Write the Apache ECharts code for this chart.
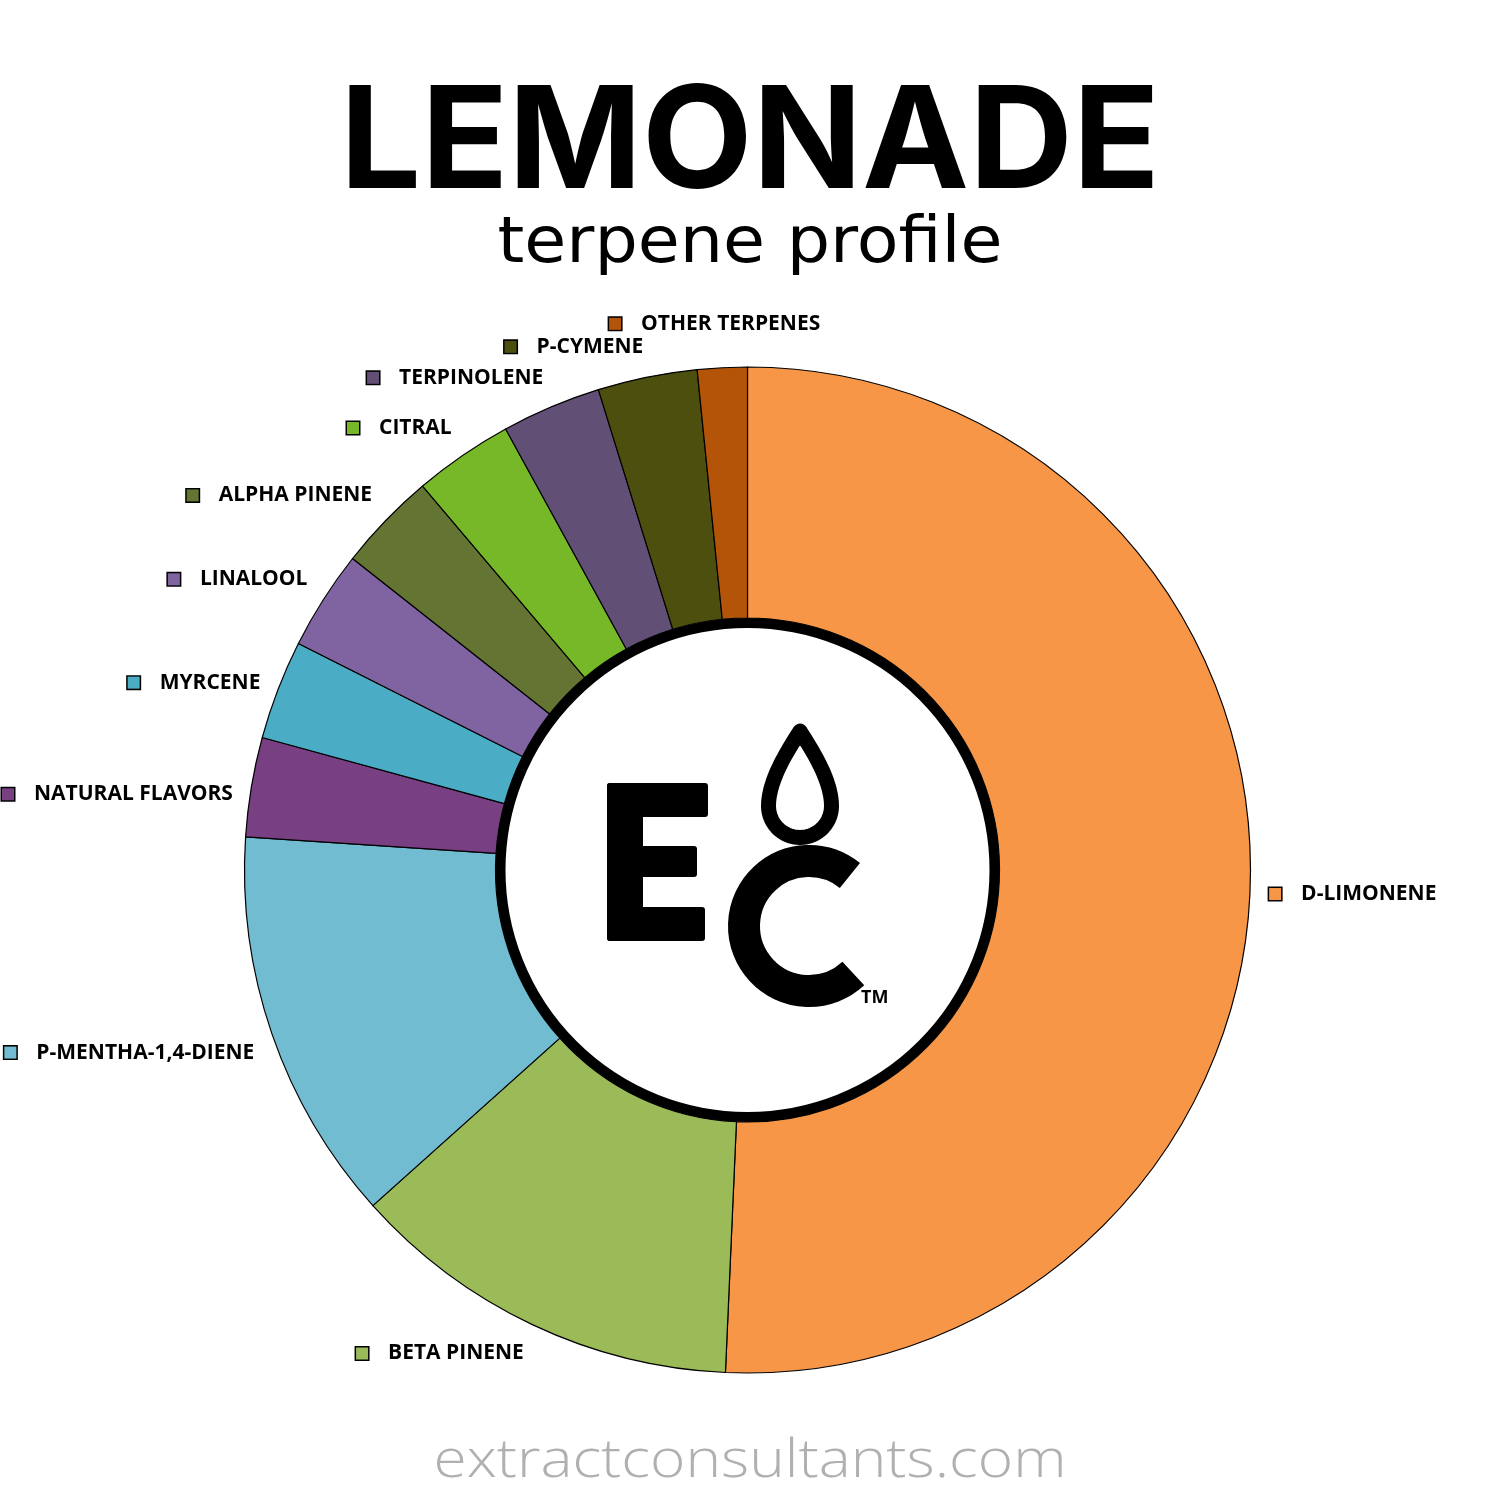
<!DOCTYPE html>
<html>
<head>
<meta charset="utf-8">
<title>LEMONADE terpene profile</title>
<script src="https://cdn.jsdelivr.net/npm/echarts@6/dist/echarts.min.js"></script>
<style>
  html, body { margin: 0; padding: 0; background: #ffffff; }
  #chart { width: 1500px; height: 1500px; }
</style>
</head>
<body>
<div id="chart"></div>
<script>
// ---- data ----
const terpeneNames = [
  'D-LIMONENE', 'BETA PINENE', 'P-MENTHA-1,4-DIENE', 'NATURAL FLAVORS', 'MYRCENE',
  'LINALOOL', 'ALPHA PINENE', 'CITRAL', 'TERPINOLENE', 'P-CYMENE', 'OTHER TERPENES'
];
const terpeneValues = [50.8, 12.7, 12.7, 3.2, 3.2, 3.2, 3.2, 3.2, 3.2, 3.2, 1.6];
const sliceColors = [
  '#F79646', '#9BBB59', '#71BCD0', '#783F83', '#4BACC6',
  '#8064A2', '#637433', '#77B828', '#614F75', '#4D4F0E', '#B35409'
];
const chartTitle = 'LEMONADE';
const chartSubtitle = 'terpene profile';
const footerText = 'extractconsultants.com';

// ---- layout constants ----
const CX = 747.5, CY = 870;
const R_OUT = 503, R_IN = 252;
const LABEL_GAP = 18;

function measure(text, font) {
  const c = document.createElement('canvas').getContext('2d');
  c.font = font;
  return c.measureText(text).width;
}
const titleFont = '700 142px Inter';
const subFont = '400 64px "DejaVu Sans"';
const footFont = '300 54px "Open Sans"';
const titleScale = 820 / measure(chartTitle, titleFont);
const subScale = 505 / measure(chartSubtitle, subFont);
const footScale = 633 / measure(footerText, footFont);

// mid angle of every slice (clockwise from 12 o'clock), from the values
const total = terpeneValues.reduce((a, b) => a + b, 0);
const midAngles = [];
terpeneValues.reduce((acc, v) => { midAngles.push((acc + v / 2) / total * 2 * Math.PI); return acc + v; }, 0);

// Excel-like "outside end" label placement: the label box touches a point just
// outside the ring on the slice's mid-angle, sliding its anchor round the box.
function clamp1(v) { return Math.max(-1, Math.min(1, v)); }
function easeX(t) { const s = Math.sign(t), a = Math.min(1, Math.pow(Math.abs(t) / 0.2, 2)); return s * a; }
function easeY(t) { return clamp1((t + 0.35) * 4.5) * 1.2; }
const placed = [];
function excelLabel(params) {
  const i = params.dataIndex;
  const a = midAngles[i];
  const dx = Math.sin(a), dy = -Math.cos(a);
  const w = params.labelRect.width, h = params.labelRect.height;
  const ax = CX + dx * (R_OUT + LABEL_GAP), ay = CY + dy * (R_OUT + LABEL_GAP);
  let x = ax + easeX(dx) * w / 2;
  let y = ay + easeY(dy) * h / 2;
  for (let k = 0; k < placed.length; k++) {
    const b = placed[k];
    if (Math.abs(x - b.x) < (w + b.w) / 2 && Math.abs(y - b.y) < (h + b.h) / 2 + 2) {
      y = dy < 0 ? b.y - (h + b.h) / 2 - 2 : b.y + (h + b.h) / 2 + 2;
    }
  }
  placed.push({ x, y, w, h });
  return { x, y, align: 'center', verticalAlign: 'middle', hideOverlap: false, moveOverlap: null };
}

// drop outline (logo decoration) sampled as a polygon
function cubic(p0, p1, p2, p3, t) {
  const u = 1 - t;
  return [
    u*u*u*p0[0] + 3*u*u*t*p1[0] + 3*u*t*t*p2[0] + t*t*t*p3[0],
    u*u*u*p0[1] + 3*u*u*t*p1[1] + 3*u*t*t*p2[1] + t*t*t*p3[1]
  ];
}
const dropPts = [];
(function () {
  const tip = [800, 731], c = [800, 806], r = 31.5;
  for (let i = 0; i <= 20; i++) dropPts.push(cubic(tip, [812, 750], [831.5, 780], [831.5, 806], i / 20));
  for (let i = 1; i < 30; i++) {
    const a = Math.PI * i / 30;
    dropPts.push([c[0] + r * Math.cos(a), c[1] + r * Math.sin(a)]);
  }
  for (let i = 0; i < 20; i++) dropPts.push(cubic([768.5, 806], [768.5, 780], [788, 750], tip, i / 20));
})();

const rich = {
  s: { width: 20, height: 12 },
  t: { fontFamily: 'Open Sans', fontWeight: 700, fontSize: 21, color: '#000' }
};
sliceColors.forEach((c, i) => {
  rich['m' + i] = { width: 12, height: 12, backgroundColor: c, borderColor: '#000', borderWidth: 1.5 };
});

const data = terpeneNames.map((n, i) => ({
  name: n, value: terpeneValues[i], itemStyle: { color: sliceColors[i] }
}));

const chart = echarts.init(document.getElementById('chart'), null, { renderer: 'canvas' });
chart.setOption({
  backgroundColor: '#ffffff',
  animation: false,
  series: [{
    type: 'pie',
    center: [CX, CY],
    radius: [R_IN, R_OUT],
    startAngle: 90,
    clockwise: true,
    avoidLabelOverlap: false,
    itemStyle: { borderColor: '#000', borderWidth: 1.2 },
    label: {
      show: true,
      position: 'outside',
      alignTo: 'none',
      formatter: p => `{m${p.dataIndex}|}{s|}{t|${p.name}}`,
      rich: rich
    },
    labelLine: { show: false, length: 18, length2: 0 },
    labelLayout: excelLabel,
    emphasis: { disabled: true },
    data: data
  }],
  graphic: [
    { type: 'text', x: 750, y: 74, scaleX: titleScale, z: 10,
      style: { text: chartTitle, font: titleFont, fill: '#000', textAlign: 'center', textVerticalAlign: 'top' } },
    { type: 'text', x: 750, y: 213, scaleX: subScale, z: 10,
      style: { text: chartSubtitle, font: subFont, fill: '#000', textAlign: 'center', textVerticalAlign: 'top' } },
    { type: 'text', x: 750, y: 1435, scaleX: footScale, z: 10,
      style: { text: footerText, font: footFont, fill: '#b0b0b0', textAlign: 'center', textVerticalAlign: 'top' } },
    // center disc
    { type: 'circle', z: 20, shape: { cx: CX, cy: CY, r: R_IN - 5 },
      style: { fill: '#fff', stroke: '#000', lineWidth: 10 } },
    // logo: E
    { type: 'rect', z: 21, shape: { x: 607, y: 783, width: 36, height: 158, r: 3 }, style: { fill: '#000' } },
    { type: 'rect', z: 21, shape: { x: 607, y: 783, width: 101, height: 34, r: 3 }, style: { fill: '#000' } },
    { type: 'rect', z: 21, shape: { x: 607, y: 846, width: 90, height: 31, r: 3 }, style: { fill: '#000' } },
    { type: 'rect', z: 21, shape: { x: 607, y: 907, width: 98, height: 34, r: 3 }, style: { fill: '#000' } },
    // logo: C
    { type: 'arc', z: 21, shape: { cx: 809, cy: 926, r: 65, startAngle: 47 * Math.PI / 180, endAngle: 309 * Math.PI / 180, clockwise: true },
      style: { stroke: '#000', lineWidth: 32, fill: null, lineCap: 'butt' } },
    // logo: drop
    { type: 'polygon', z: 22, shape: { points: dropPts },
      style: { fill: '#fff', stroke: '#000', lineWidth: 15, lineJoin: 'round' } },
    { type: 'text', z: 22, x: 861, y: 998,
      style: { text: 'TM', font: '700 18px "Open Sans"', fill: '#000', textAlign: 'left', textVerticalAlign: 'middle' } }
  ]
});
</script>
</body>
</html>
